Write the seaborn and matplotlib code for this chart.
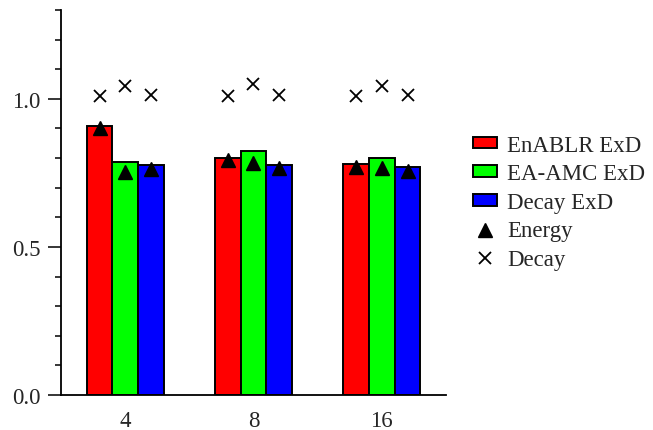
import seaborn as sns
import matplotlib.pyplot as plt
import pandas as pd
from matplotlib.patches import Patch
from matplotlib.lines import Line2D

# values
sizes = ["4", "8", "16"]
methods = ["EnABLR ExD", "EA-AMC ExD", "Decay ExD"]
bar_vals = {
    "EnABLR ExD": [0.910, 0.800, 0.779],
    "EA-AMC ExD": [0.787, 0.823, 0.799],
    "Decay ExD": [0.776, 0.778, 0.770],
}
energy_vals = {
    "EnABLR ExD": [0.902, 0.793, 0.771],
    "EA-AMC ExD": [0.752, 0.784, 0.765],
    "Decay ExD": [0.764, 0.765, 0.758],
}
decay_vals = {
    "EnABLR ExD": [1.010, 1.008, 1.008],
    "EA-AMC ExD": [1.044, 1.049, 1.044],
    "Decay ExD": [1.014, 1.012, 1.013],
}
colors = ["#ff0000", "#00ff00", "#0000ff"]

rows = []
for m in methods:
    for s, v in zip(sizes, bar_vals[m]):
        rows.append({"size": s, "method": m, "value": v})
df = pd.DataFrame(rows)

sns.set_style("ticks")
plt.rcParams["font.family"] = ["Liberation Serif", "DejaVu Serif"]
plt.rcParams["font.size"] = 16.5

fig = plt.figure(figsize=(6.53, 4.31), dpi=100)
ax = fig.add_axes([61 / 653, 35 / 431, 385 / 653, 385 / 431])

sns.barplot(data=df, x="size", y="value", hue="method", order=sizes,
            hue_order=methods, palette=colors, width=0.6, edgecolor="black",
            linewidth=1.4, saturation=1, legend=False, ax=ax)

# markers on top of each bar
for cont, m in zip(ax.containers, methods):
    xs = [b.get_x() + b.get_width() / 2 for b in cont]
    ax.plot(xs, energy_vals[m], ls="none", marker="^", ms=9.5, color="black")
    ax.plot(xs, decay_vals[m], ls="none", marker="x", ms=9, mew=1.3, color="black")

ax.set_xlim(-0.5, 2.5)
ax.set_ylim(0, 1.3)
ax.set_yticks([0.0, 0.5, 1.0])
ax.set_yticks([i / 10 for i in range(14)], minor=True)
ax.set_yticklabels(["0.0", "0.5", "1.0"])
ax.set_xlabel("")
ax.set_ylabel("")
ax.tick_params(axis="y", which="major", length=9.4, width=1.3, pad=5.5, labelsize=16.5)
ax.tick_params(axis="y", which="minor", length=4, width=1.3)
ax.tick_params(axis="x", length=0, pad=10.5, labelsize=16.5)
sns.despine(ax=ax)
for sp in ["left", "bottom"]:
    ax.spines[sp].set_linewidth(1.3)
    ax.spines[sp].set_color("black")

handles = [Patch(facecolor=c, edgecolor="black", linewidth=1.4) for c in colors]
handles += [Line2D([], [], ls="none", marker="^", ms=9.5, color="black"),
            Line2D([], [], ls="none", marker="x", ms=9, mew=1.3, color="black")]
labels = methods + ["Energy", "Decay"]
fig.legend(handles, labels, loc="center left", bbox_to_anchor=(473 / 653, 0.528),
           frameon=False, fontsize=16.5, borderpad=0, borderaxespad=0,
           handlelength=1.05, handleheight=0.4, handletextpad=0.45, labelspacing=0.33)

fig.savefig("out.png", dpi=100)
